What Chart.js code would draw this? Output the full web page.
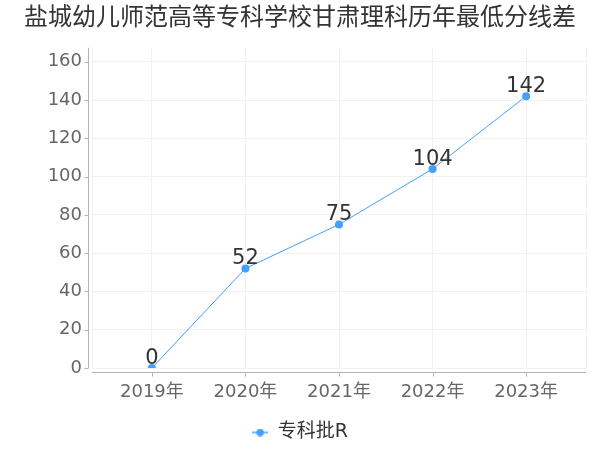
<!DOCTYPE html>
<html><head><meta charset="utf-8">
<script src="https://cdn.jsdelivr.net/npm/chart.js@4/dist/chart.umd.min.js"></script>
<style>html,body{margin:0;padding:0;background:#fff}</style>
</head><body>
<canvas id="c" width="600" height="450" style="width:600px;height:450px;display:block"></canvas>
<script>
const chartTitle = '盐城幼儿师范高等专科学校甘肃理科历年最低分线差';
const categories = ['2019年', '2020年', '2021年', '2022年', '2023年'];
const seriesName = '专科批R';
const values = [0, 52, 75, 104, 142];
const yTicks = [0, 20, 40, 60, 80, 100, 120, 140, 160];

const LINE = '#44a0ff';
const FONT = '"DejaVu Sans", "Noto Sans CJK SC", sans-serif';

const mk = document.createElement('canvas');
mk.width = 16; mk.height = 8;
(function(){
  const g = mk.getContext('2d');
  g.strokeStyle = LINE; g.lineWidth = 1.5;
  g.beginPath(); g.moveTo(0, 4); g.lineTo(16, 4); g.stroke();
  g.fillStyle = LINE; g.beginPath(); g.arc(8, 4, 3.8, 0, Math.PI * 2); g.fill();
})();

const xMin = -0.64, xMax = 4.64;

const axisPlugin = {
  id: 'axisLines',
  afterDraw(chart) {
    const ctx = chart.ctx, a = chart.chartArea;
    const xs = chart.scales.x, ys = chart.scales.y;
    ctx.save();
    ctx.strokeStyle = '#b4b4b4'; ctx.lineWidth = 1;
    ctx.beginPath();
    const ax = Math.round(a.left - 4) + 0.5;
    ctx.moveTo(ax, a.top); ctx.lineTo(ax, a.bottom);
    yTicks.forEach(v => { const y = Math.round(ys.getPixelForValue(v)) + 0.5; ctx.moveTo(ax - 4, y); ctx.lineTo(ax, y); });
    const ay = Math.round(a.bottom + 4) + 0.5;
    ctx.moveTo(a.left, ay); ctx.lineTo(a.right, ay);
    categories.forEach((c, i) => { const x = Math.round(xs.getPixelForValue(i)) + 0.5; ctx.moveTo(x, ay); ctx.lineTo(x, ay + 4); });
    ctx.stroke();
    ctx.restore();
  },
  afterDatasetsDraw(chart) {
    const ctx = chart.ctx;
    const meta = chart.getDatasetMeta(0);
    ctx.save();
    ctx.font = '21px ' + FONT;
    ctx.fillStyle = '#333';
    ctx.textAlign = 'center';
    ctx.textBaseline = 'alphabetic';
    meta.data.forEach((p, i) => { ctx.fillText(String(values[i]), p.x, p.y - 4); });
    ctx.restore();
  }
};

new Chart(document.getElementById('c'), {
  type: 'line',
  data: {
    datasets: [{
      label: seriesName,
      data: values.map((v, i) => ({ x: i, y: v })),
      borderColor: LINE, backgroundColor: LINE, borderWidth: 1,
      pointRadius: 4, pointBackgroundColor: LINE, pointBorderWidth: 0, tension: 0
    }]
  },
  options: {
    responsive: false, devicePixelRatio: 1, animation: false,
    layout: { padding: { left: 0, right: 0, top: 0, bottom: -2 } },
    plugins: {
      title: {
        display: true, text: chartTitle, color: '#333',
        font: { family: FONT, size: 24, weight: 'normal' },
        padding: { top: 4, bottom: 15 }
      },
      legend: {
        display: true, position: 'bottom',
        labels: {
          usePointStyle: true, pointStyleWidth: 16, boxHeight: 8,
          color: '#333', font: { family: FONT, size: 19 }, padding: 8,
          generateLabels: () => [{ text: seriesName, pointStyle: mk, fillStyle: LINE, strokeStyle: LINE, lineWidth: 0, fontColor: '#333', datasetIndex: 0 }]
        }
      },
      tooltip: { enabled: false }
    },
    scales: {
      x: {
        type: 'linear', min: xMin, max: xMax,
        afterBuildTicks: s => { s.ticks = [xMin, 0, 1, 2, 3, 4, xMax].map(v => ({ value: v })); },
        afterFit: s => { s.height = 47; },
        grid: { color: '#f2f2f2', drawTicks: false },
        border: { display: false },
        ticks: {
          autoSkip: false, maxRotation: 0, padding: 14, color: '#666',
          font: { family: FONT, size: 18 },
          callback: v => (Number.isInteger(v) && categories[v] !== undefined) ? categories[v] : ''
        }
      },
      y: {
        min: 0, max: 167.3,
        afterBuildTicks: s => { s.ticks = yTicks.map(v => ({ value: v })); },
        afterFit: s => { s.width = 92; },
        grid: { color: '#f2f2f2', drawTicks: false },
        border: { display: false },
        ticks: { padding: 10, color: '#666', font: { family: FONT, size: 18 } }
      },
      yR: {
        position: 'right', display: true,
        grid: { display: false }, border: { display: false },
        ticks: { display: false },
        afterFit: s => { s.width = 10; }
      }
    }
  },
  plugins: [axisPlugin]
});
</script>
</body></html>
